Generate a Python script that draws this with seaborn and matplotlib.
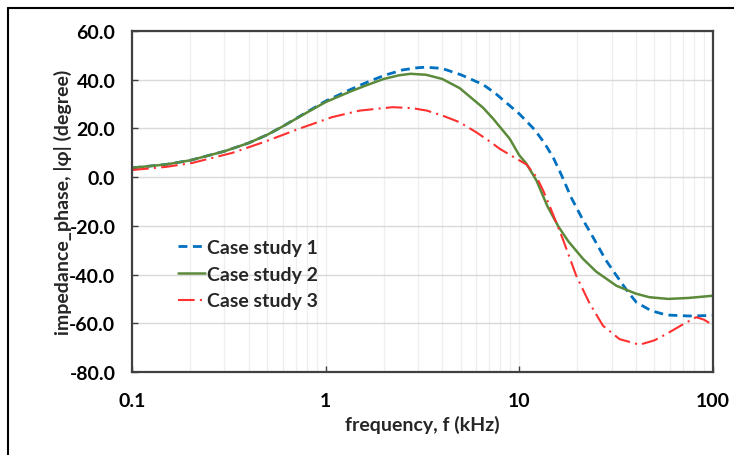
import matplotlib
matplotlib.use("Agg")
import matplotlib.pyplot as plt
from matplotlib.lines import Line2D
from matplotlib.ticker import LogLocator, FixedLocator, NullFormatter
import numpy as np
import pandas as pd
import seaborn as sns

# Values.
freq_case1 = [0.1, 0.15, 0.2, 0.3, 0.4, 0.5, 0.6, 0.8, 1.0, 1.33, 1.6, 2.0, 2.5, 3.0, 3.3,
              4.0, 5.0, 6.5, 7.5, 10.0, 12.0, 13.5, 15.0, 16.5, 18.6, 21.0, 24.0, 28.0,
              31.8, 36.0, 40.3, 48.0, 57.6, 75.0, 100.0]
phase_case1 = [3.8, 5.2, 6.9, 10.6, 14.0, 17.4, 20.8, 26.7, 31.2, 35.8, 38.6, 41.7, 44.0,
               44.9, 45.1, 44.6, 42.0, 38.0, 34.5, 26.0, 19.5, 14.0, 8.0, 1.0, -8.5, -16.5,
               -24.5, -34.0, -40.4, -46.5, -51.4, -54.8, -56.6, -57.0, -56.8]

freq_case2 = [0.1, 0.15, 0.2, 0.3, 0.4, 0.5, 0.6, 0.8, 1.0, 1.33, 1.6, 2.0, 2.4, 2.75, 3.3,
              4.0, 4.93, 6.5, 7.33, 8.94, 10.0, 10.9, 12.3, 14.0, 16.0, 18.0, 21.4, 25.0,
              31.8, 40.0, 47.0, 59.0, 75.0, 100.0]
phase_case2 = [3.8, 5.2, 6.9, 10.6, 14.0, 17.4, 20.8, 26.5, 30.8, 35.0, 37.5, 40.3, 41.8,
               42.4, 42.0, 40.3, 36.5, 28.5, 24.0, 15.7, 9.0, 5.5, -1.5, -12.0, -20.5,
               -26.5, -33.6, -38.8, -44.6, -47.8, -49.3, -50.0, -49.6, -48.7]

freq_case3 = [0.1, 0.15, 0.204, 0.328, 0.488, 0.726, 1.078, 1.5, 2.22, 2.8, 3.33, 4.0,
              4.93, 6.0, 7.0, 7.94, 9.7, 10.9, 12.3, 13.3, 14.4, 16.8, 19.7, 23.0, 27.1,
              33.0, 41.9, 50.0, 57.6, 70.0, 82.2, 90.0, 100.0]
phase_case3 = [2.9, 4.2, 5.8, 9.9, 14.6, 19.8, 24.6, 27.3, 28.7, 28.3, 27.3, 25.3, 22.5,
               18.4, 14.8, 11.6, 7.5, 5.2, 0.0, -5.5, -12.0, -25.4, -40.4, -51.5, -61.0,
               -66.5, -68.8, -67.0, -64.4, -60.5, -57.5, -58.5, -60.7]

series_names = ["Case study 1", "Case study 2", "Case study 3"]
y_ticks = [-80, -60, -40, -20, 0, 20, 40, 60]
x_ticks = [0.1, 1, 10, 100]
x_tick_labels = ["0.1", "1", "10", "100"]

sns.set_theme(style="white")
plt.rcParams["font.family"] = ["Lato", "DejaVu Sans"]
fs = 14

fig = plt.figure(figsize=(7.34, 4.56), dpi=100)
ax = fig.add_axes([0.180, 0.182, 0.791, 0.748])

styles = {
    "Case study 1": dict(color="#0070C0", linewidth=2.0, dashes=(3.2, 2.0)),
    "Case study 2": dict(color="#5A8A3A", linewidth=1.8),
    "Case study 3": dict(color="#FF3030", linewidth=1.5, dashes=(8, 2.5, 1, 2.5)),
}
data = [(freq_case1, phase_case1), (freq_case2, phase_case2), (freq_case3, phase_case3)]

for name, (f, p) in zip(series_names, data):
    df = pd.DataFrame({"frequency": f, "phase": p})
    st = styles[name]
    sns.lineplot(data=df, x="frequency", y="phase", ax=ax, color=st["color"],
                 linewidth=st["linewidth"], label=name, estimator=None, sort=False)
    if "dashes" in st:
        ax.lines[-1].set_dashes(st["dashes"])

ax.set_xscale("log")
ax.set_xlim(0.1, 100)
ax.set_ylim(-80, 60)

ax.set_yticks(y_ticks)
ax.set_yticklabels([f"{v:.1f}" for v in y_ticks])
ax.xaxis.set_major_locator(FixedLocator(x_ticks))
ax.set_xticklabels(x_tick_labels)
ax.xaxis.set_minor_locator(LogLocator(base=10, subs=np.arange(2, 10)))
ax.xaxis.set_minor_formatter(NullFormatter())

ax.grid(True, which="major", axis="y", color="#d9d9d9", linewidth=1.0)
ax.grid(True, which="both", axis="x", color="#eeeeee", linewidth=0.9)
ax.set_axisbelow(True)

for s in ax.spines.values():
    s.set_color("#404040")
    s.set_linewidth(1.6)

ax.tick_params(axis="both", which="both", direction="in", colors="#404040",
               labelcolor="black", labelsize=fs)
ax.tick_params(axis="x", which="major", length=4, width=1.0, pad=14.5, bottom=True)
ax.tick_params(axis="x", which="minor", length=3.5, width=1.0)
ax.tick_params(axis="y", which="major", length=4, width=1.0, pad=12, left=True)
for lab in ax.get_xticklabels() + ax.get_yticklabels():
    lab.set_fontweight("bold")

ax.set_xlabel("frequency, f (kHz)", fontsize=fs, fontweight="bold", labelpad=4)
ax.set_ylabel("impedance_phase, |φ| (degree)", fontsize=fs, fontweight="bold", labelpad=-2)

ax.legend(loc="upper left", bbox_to_anchor=(0.079, 0.39), frameon=False,
          borderaxespad=0, borderpad=0, handlelength=1.4, handletextpad=0.1,
          labelspacing=0.5, prop={"weight": "bold", "size": fs})

# frame lines of the surrounding box (top and left edges)
fig.add_artist(Line2D([0.011, 1.0], [0.980, 0.980], color="black", linewidth=1.5,
                      transform=fig.transFigure))
fig.add_artist(Line2D([0.011, 0.011], [0.0, 0.980], color="black", linewidth=1.5,
                      transform=fig.transFigure))

fig.savefig("out.png", dpi=100)
